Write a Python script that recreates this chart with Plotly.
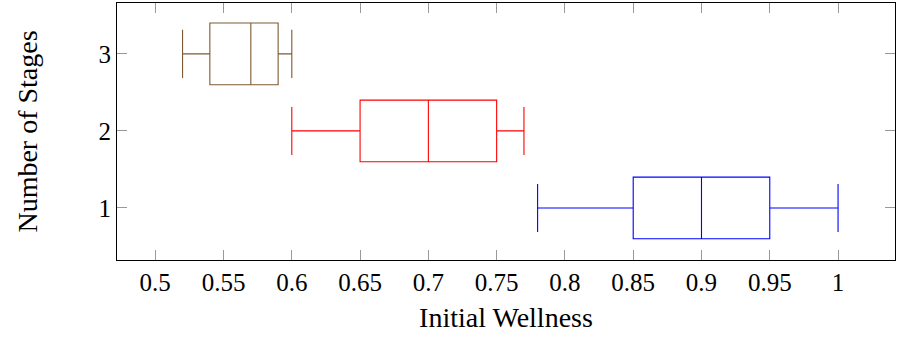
import plotly.graph_objects as go

stages = [1, 2, 3]
lower_whisker = [0.78, 0.60, 0.52]
q1 = [0.85, 0.65, 0.54]
median = [0.90, 0.70, 0.57]
q3 = [0.95, 0.75, 0.59]
upper_whisker = [1.00, 0.77, 0.60]
colors = ["#0000ff", "#ff0000", "#7d5a33"]

x_tickvals = [0.5, 0.55, 0.6, 0.65, 0.7, 0.75, 0.8, 0.85, 0.9, 0.95, 1.0]
x_ticktext = ["0.5", "0.55", "0.6", "0.65", "0.7", "0.75", "0.8", "0.85", "0.9", "0.95", "1"]
y_tickvals = [1, 2, 3]
y_ticktext = ["1", "2", "3"]

fig = go.Figure()
for i, s in enumerate(stages):
    fig.add_trace(go.Box(
        y=[s],
        q1=[q1[i]], median=[median[i]], q3=[q3[i]],
        lowerfence=[lower_whisker[i]], upperfence=[upper_whisker[i]],
        orientation="h",
        width=0.8,
        whiskerwidth=0.78,
        line=dict(color=colors[i], width=1.1),
        fillcolor="rgba(255,255,255,0)",
        boxpoints=False,
        showlegend=False,
        hoverinfo="skip",
    ))

font_family = "Liberation Serif, DejaVu Serif, serif"
fig.update_layout(
    width=899, height=338,
    margin=dict(l=117, r=4, t=3, b=78),
    paper_bgcolor="white", plot_bgcolor="white",
    font=dict(family=font_family, size=24, color="black"),
    xaxis=dict(
        range=[0.472, 1.0417],
        tickvals=x_tickvals, ticktext=x_ticktext,
        ticks="inside", ticklen=10, tickcolor="#999999", tickwidth=1,
        showline=True, linecolor="black", linewidth=1, mirror="allticks",
        showgrid=False, zeroline=False, automargin=False,
        title=dict(text="Initial Wellness", standoff=12, font=dict(size=28)),
        tickfont=dict(size=25),
    ),
    yaxis=dict(
        range=[0.325, 3.66],
        tickvals=y_tickvals, ticktext=y_ticktext,
        ticks="inside", ticklen=10, tickcolor="#999999", tickwidth=1,
        showline=True, linecolor="black", linewidth=1, mirror="allticks",
        showgrid=False, zeroline=False, automargin=False,
        title=dict(text="Number of Stages", standoff=52, font=dict(size=28)),
        tickfont=dict(size=25),
    ),
)

fig.write_html(
    "out.html",
    config={"displayModeBar": False},
    post_script="document.body.style.margin='0';document.body.style.overflow='hidden';",
)
